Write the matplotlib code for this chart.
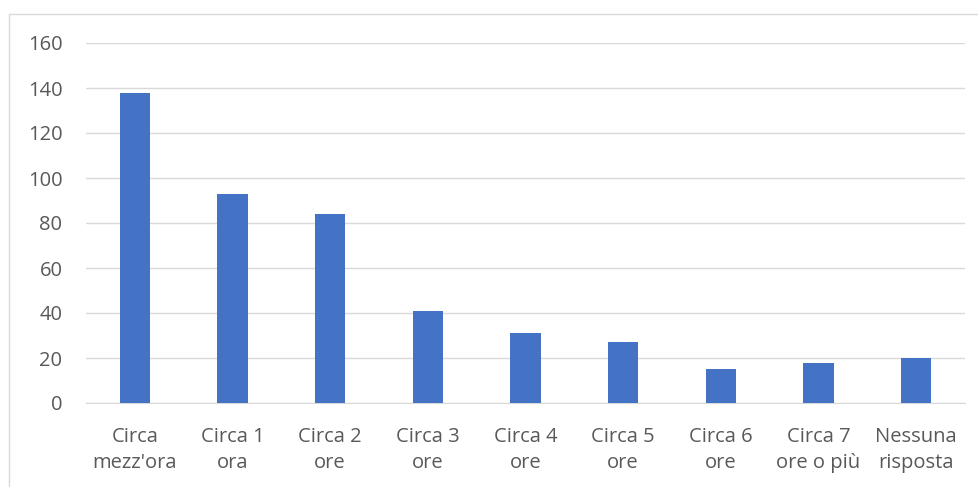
import matplotlib
matplotlib.use("Agg")
import matplotlib.pyplot as plt
from matplotlib.patches import Rectangle

categories = ["Circa\nmezz'ora", "Circa 1\nora", "Circa 2\nore", "Circa 3\nore", "Circa 4\nore",
              "Circa 5\nore", "Circa 6\nore", "Circa 7\nore o più", "Nessuna\nrisposta"]
values = [138, 93, 84, 41, 31, 27, 15, 18, 20]
yticks = [0, 20, 40, 60, 80, 100, 120, 140, 160]

plt.rcParams['font.family'] = ['Open Sans', 'DejaVu Sans']
fig = plt.figure(figsize=(9.79, 4.87), dpi=100)
fig.patches.append(Rectangle((9/979, -0.1), 1.0, (487-14)/487 + 0.1, transform=fig.transFigure,
                             fill=False, edgecolor='#d9d9d9', linewidth=1.0))
ax = fig.add_axes([86/979, 84/487, (965-86)/979, (403-43)/487])
x = list(range(len(categories)))
ax.bar(x, values, width=0.31, color='#4472C4', zorder=3)
ax.set_xlim(-0.5, len(categories) - 0.5)
ax.set_ylim(0, 160)
ax.set_yticks(yticks)
ax.set_yticklabels([str(t) for t in yticks])
ax.set_xticks(x)
ax.set_xticklabels(categories, linespacing=1.4)
ax.grid(axis='y', color='#d9d9d9', linewidth=1.0, zorder=0)
for s in ['top', 'right', 'left']:
    ax.spines[s].set_visible(False)
ax.spines['bottom'].set_color('#d9d9d9')
ax.tick_params(axis='both', length=0, colors='#595959', labelsize=14.5)
ax.tick_params(axis='y', pad=17)
ax.tick_params(axis='x', pad=17)
fig.savefig("out.png", dpi=100)
